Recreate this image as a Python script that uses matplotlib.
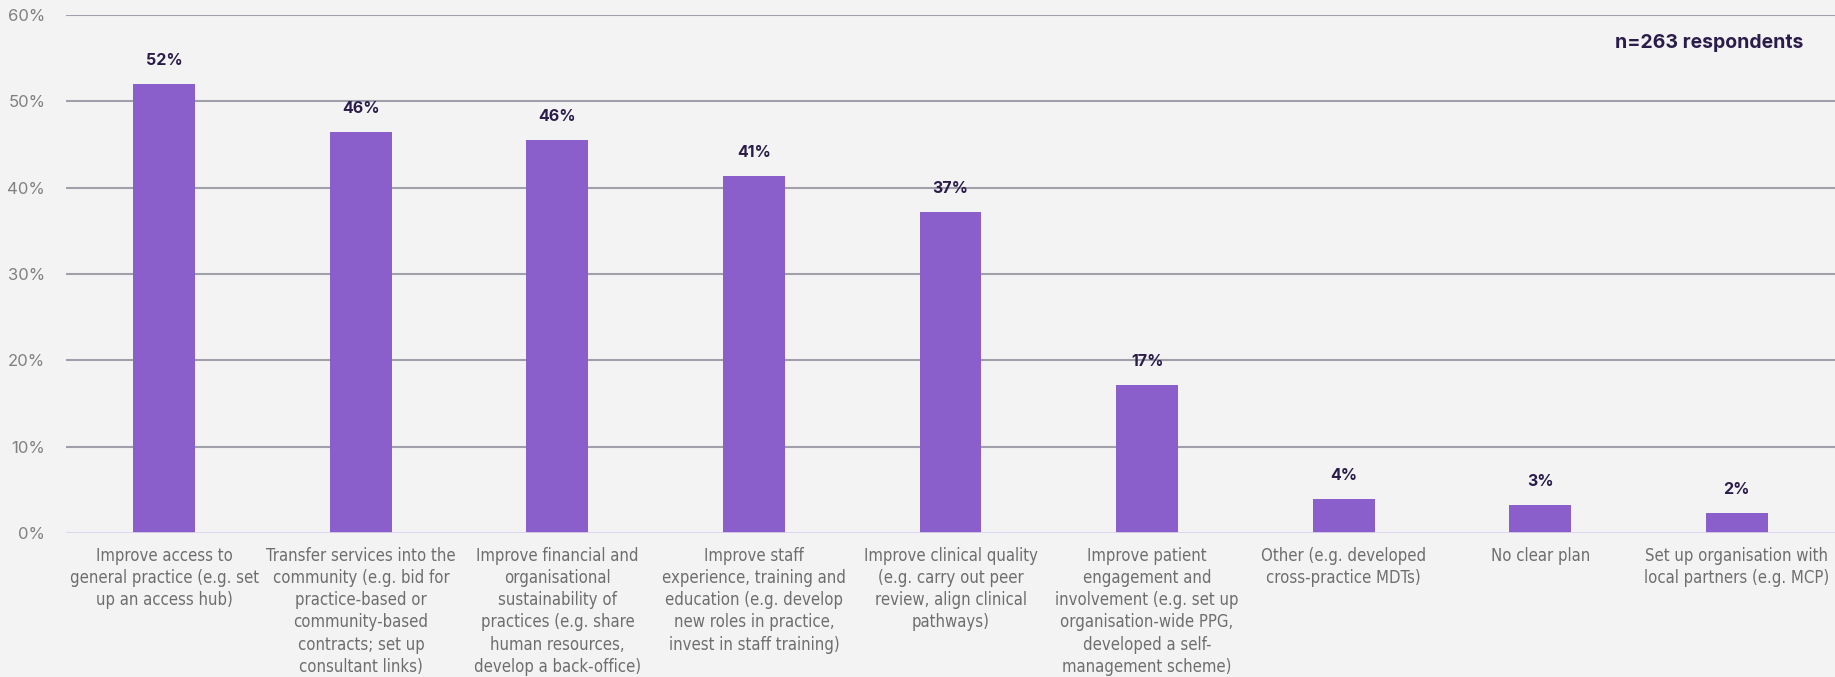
import matplotlib.pyplot as plt
from matplotlib import font_manager

categories = [
    "Improve access to\ngeneral practice (e.g. set\nup an access hub)",
    "Transfer services into the\ncommunity (e.g. bid for\npractice-based or\ncommunity-based\ncontracts; set up\nconsultant links)",
    "Improve financial and\norganisational\nsustainability of\npractices (e.g. share\nhuman resources,\ndevelop a back-office)",
    "Improve staff\nexperience, training and\neducation (e.g. develop\nnew roles in practice,\ninvest in staff training)",
    "Improve clinical quality\n(e.g. carry out peer\nreview, align clinical\npathways)",
    "Improve patient\nengagement and\ninvolvement (e.g. set up\norganisation-wide PPG,\ndeveloped a self-\nmanagement scheme)",
    "Other (e.g. developed\ncross-practice MDTs)",
    "No clear plan",
    "Set up organisation with\nlocal partners (e.g. MCP)",
]
values = [52.0, 46.4, 45.5, 41.3, 37.2, 17.1, 3.9, 3.2, 2.3]
value_labels = ["52%", "46%", "46%", "41%", "37%", "17%", "4%", "3%", "2%"]
yticks = [0, 10, 20, 30, 40, 50, 60]

# look for a condensed / narrow face for the category labels
narrow_file = None
for f in font_manager.fontManager.ttflist:
    name = (f.name + " " + f.fname).lower()
    if f.weight in (400, "normal", "regular") and f.style == "normal" and \
            ("condensed" in name or "narrow" in name or f.stretch in ("condensed", "semi-condensed")):
        narrow_file = f.fname
        break
if narrow_file:
    label_font = font_manager.FontProperties(fname=narrow_file, size=12)
else:
    label_font = font_manager.FontProperties(family="Roboto", size=11)

bg = "#f3f3f3"
fig = plt.figure(figsize=(18.35, 6.77), dpi=100, facecolor=bg)
ax = fig.add_axes([0.036, 0.2127, 0.964, 0.7653], facecolor=bg)

x = range(len(categories))
ax.bar(x, values, width=0.315, color="#8a5fcc", zorder=3)

for xi, v, lab in zip(x, values, value_labels):
    ax.annotate(lab, (xi, v), xytext=(0, 11.5), textcoords="offset points",
                ha="center", va="bottom", fontsize=11.5, fontweight="bold",
                color="#2b1d4a", family="Inter")

ax.set_xlim(-0.5, len(categories) - 0.5)
ax.set_ylim(0, 60)
ax.set_yticks(yticks)
ax.set_yticklabels([f"{t}%" for t in yticks], fontsize=12, color="#808080", family="Inter")
ax.tick_params(axis="y", length=0, pad=15)
for t in yticks[1:]:
    ax.axhline(t, color="#a0a0aa", lw=1.5, zorder=1)
ax.axhline(0, color="#dcd2ee", lw=2, zorder=4)

ax.set_xticks(list(x))
ax.set_xticklabels(categories, fontproperties=label_font, color="#6e6e6e",
                   linespacing=1.3, va="top")
ax.tick_params(axis="x", length=0, pad=10)

for s in ax.spines.values():
    s.set_visible(False)

ax.text(0.982, 0.945, "n=263 respondents", transform=ax.transAxes, ha="right",
        va="center", fontsize=14, fontweight="bold", color="#2b1d4a", family="Inter")

fig.savefig("out.png", dpi=100, facecolor=bg)
